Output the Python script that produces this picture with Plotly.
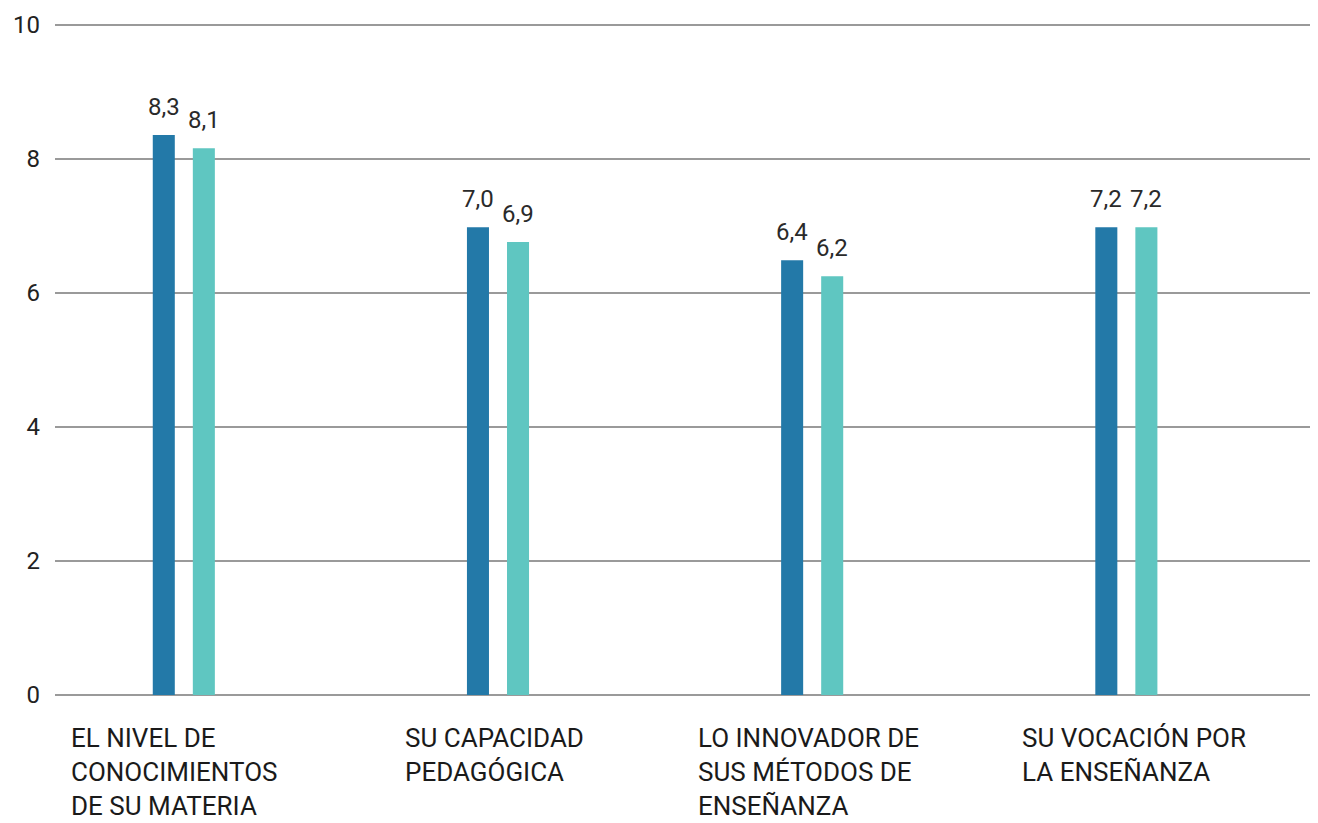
import plotly.graph_objects as go

# data
categories = [
    "EL NIVEL DE<br>CONOCIMIENTOS<br>DE SU MATERIA",
    "SU CAPACIDAD<br>PEDAGÓGICA",
    "LO INNOVADOR DE<br>SUS MÉTODOS DE<br>ENSEÑANZA",
    "SU VOCACIÓN POR<br>LA ENSEÑANZA",
]
serie_a = [8.36, 6.98, 6.49, 6.98]
serie_b = [8.16, 6.76, 6.25, 6.98]
texto_a = ["8,3", "7,0", "6,4", "7,2"]
texto_b = ["8,1", "6,9", "6,2", "7,2"]
yticks = [0, 2, 4, 6, 8, 10]

x = list(range(len(categories)))
font = "Roboto, 'DejaVu Sans', sans-serif"

fig = go.Figure()
series = [(serie_a, texto_a, "#2379a8", -20), (serie_b, texto_b, "#5fc6c1", 20)]
for vals, txt, col, dx in series:
    fig.add_trace(go.Bar(
        x=x, y=vals, marker=dict(color=col, line_width=0),
        hoverinfo="skip",
    ))
    # value labels, lifted a little above the bar tops
    for i, (v, t) in enumerate(zip(vals, txt)):
        fig.add_annotation(
            x=i, y=v, xref="x", yref="y", xanchor="center", yanchor="bottom",
            xshift=dx, yshift=12, text=t, showarrow=False,
            font=dict(size=24, color="#2a2a2a", family=font),
        )

# category labels, left aligned under each group
shifts = [-115, -95, -116, -106]
for i, (cat, sh) in enumerate(zip(categories, shifts)):
    fig.add_annotation(
        x=i, y=0, xref="x", yref="paper", xanchor="left", yanchor="top",
        xshift=sh, yshift=-26, text=cat, showarrow=False, align="left",
        font=dict(size=26, color="#1a1a1a", family=font),
    )

# page body keeps an 8px margin, so the figure is 8px smaller each way
fig.update_layout(
    width=1310, height=815,
    margin=dict(l=47, r=0, t=15, b=128),
    paper_bgcolor="white", plot_bgcolor="white",
    barmode="group", bargap=0.745, bargroupgap=0.45,
    showlegend=False,
)
fig.update_xaxes(range=[-0.41, 3.61], showticklabels=False, showgrid=False,
                 zeroline=False, showline=False, ticks="")
fig.update_yaxes(range=[0, 10.03], tickvals=yticks, ticktext=[str(v) for v in yticks],
                 showgrid=True, gridcolor="#9a9a9a", gridwidth=2,
                 zeroline=True, zerolinecolor="#9a9a9a", zerolinewidth=2,
                 showline=False, ticks="", ticklabelstandoff=14,
                 tickfont=dict(size=24, color="#222222", family=font))

fig.write_html("out.html")
